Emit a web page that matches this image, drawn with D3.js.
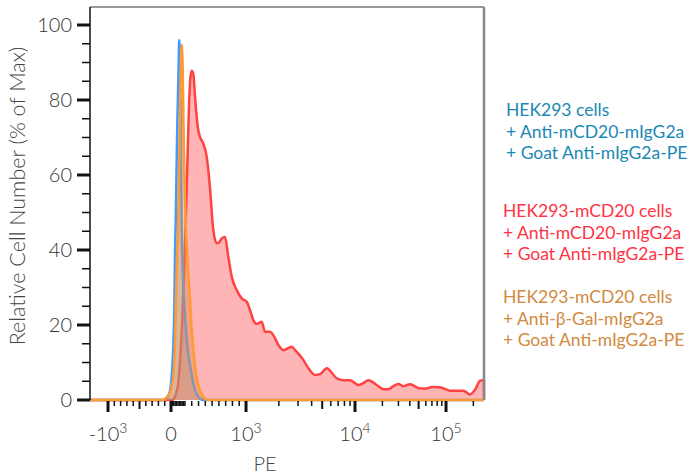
<!DOCTYPE html>
<html>
<head>
<meta charset="utf-8">
<script src="https://cdn.jsdelivr.net/npm/d3@7"></script>
<style>
  body { margin: 0; background: #fff; }
  svg text { font-family: Lato, "Open Sans", sans-serif; }
</style>
</head>
<body>
<div id="chart"></div>
<script>
// PE intensity (x) and % of max (y) for each histogram
const bluePE = [-1286, -127, -63, -32, -16, 4, 11, 16, 24, 29, 34, 39, 46, 54, 59, 64, 70, 76, 86, 100, 137, 174, 211, 248, 292, 366, 262144];
const bluePct = [0, 0, 0.5, 1.5, 2.5, 6, 10, 14, 25, 40, 48, 60, 75, 88, 96, 93, 75, 49, 33, 22.7, 14, 9.3, 5.5, 2.7, 1, 0, 0];

const orangePE = [-1286, -127, -68, -16, 0, 9, 16, 23, 29, 36, 44, 52, 59, 66, 73, 76, 83, 89, 96, 115, 144, 174, 203, 233, 262, 296, 370, 444, 262144];
const orangePct = [0, 0, 0.8, 2, 3, 4.5, 6, 10, 16, 28, 40, 49, 65, 82, 92, 94.7, 90, 75, 60, 45, 35, 27, 18, 11.5, 7, 4, 0.9, 0, 0];

const redPE = [-1286, 7, 29, 50, 64, 79, 93, 115, 137, 159, 181, 199, 223, 248, 273, 296, 321, 370, 420, 444, 469, 518, 568, 602, 642, 690, 739, 789, 863, 937,
  1015, 1088, 1167, 1254, 1393, 1494, 1661, 1780, 1979, 2199, 2626, 2815, 3355, 3729, 4295, 4775, 5501, 6795, 7810, 8991,
  10870, 12340, 14010, 17320, 20460, 23220, 26350, 29910, 33950, 40220, 51800, 61380, 69660, 85950, 110700, 154900, 183500, 208300, 236400, 255000, 262144];
const redPct = [0, 0, 1, 4, 10, 20, 33, 50, 64, 78, 86, 87.8, 87, 81, 75.5, 72, 70.2, 68.4, 64.9, 61.3, 56.5, 45.3, 41.8, 42, 43.1, 43.5, 38.2, 32.9, 29.3, 27.1,
  26.2, 24, 21.3, 20.3, 20.9, 18.2, 18.2, 17.3, 14.7, 13.3, 14.2, 13.3, 10.7, 8.5, 6.7, 6.9, 8.5, 5.8, 5.3, 5.3,
  4, 4.5, 5.3, 4, 2.9, 2.9, 3.7, 4.3, 3.7, 4.2, 3.1, 3.1, 3.5, 3.4, 2.5, 2.5, 1.5, 2.7, 5.1, 5.3, 5.3];

// axis ticks
const xMajor = [-1000, 0, 1000, 10000, 100000];
const xMajorLabels = [["-10", "3"], ["0", ""], ["10", "3"], ["10", "4"], ["10", "5"]];
const xMid = [-500, 5000, 50000];
const xMinor = [-900, -800, -700, -600, -400, -300, -200, -100,
  10, 20, 30, 40, 50, 60, 70, 80, 90,
  100, 200, 300, 400, 500, 600, 700, 800, 900,
  2000, 3000, 4000, 6000, 7000, 8000, 9000,
  20000, 30000, 40000, 60000, 70000, 80000, 90000, 200000];
const yMajor = [0, 20, 40, 60, 80, 100];
const yMinor = [5, 10, 15, 25, 30, 35, 45, 50, 55, 65, 70, 75, 85, 90, 95];

const legendBlue = ["HEK293 cells", "+ Anti-mCD20-mIgG2a", "+ Goat Anti-mIgG2a-PE"];
const legendRed = ["HEK293-mCD20 cells", "+ Anti-mCD20-mIgG2a", "+ Goat Anti-mIgG2a-PE"];
const legendOrange = ["HEK293-mCD20 cells", "+ Anti-β-Gal-mIgG2a", "+ Goat Anti-mIgG2a-PE"];

const W = 696, H = 476;
const margin = { top: 7, right: 212, bottom: 76, left: 90 };
const width = W - margin.left - margin.right,
  height = H - margin.top - margin.bottom;

const svg = d3.select("#chart").append("svg")
  .attr("width", W).attr("height", H);
const g = svg.append("g")
  .attr("transform", `translate(${margin.left}, ${margin.top})`);

// biexponential-like display: linear below 1000, log above
const tf = (v) => (v <= 1000 ? v : 1000 * (1 + Math.log10(v / 1000)));
const xBreaks = [-1286, 0, 100, 1000, 10000, 100000, 262144];
const xFrac = [0, 0.2056, 0.241, 0.396, 0.6726, 0.9036, 1];
const xs = d3.scaleLinear().domain(xBreaks.map(tf)).range(xFrac.map((f) => f * width));
const x = (v) => xs(tf(v));

const y = d3.scaleLinear().domain([0, 104.8]).range([height, 0]);

// histograms
const mk = (xa, ya) => xa.map((v, i) => ({ x: v, y: ya[i] }));
const series = [
  { data: mk(redPE, redPct), line: "#ff4242", fill: "rgba(255,60,60,0.38)" },
  { data: mk(bluePE, bluePct), line: "#3f9bff", fill: "rgba(110,150,200,0.35)" },
  { data: mk(orangePE, orangePct), line: "#ff9a33", fill: "rgba(230,140,70,0.45)" },
];

const area = d3.area().x((d) => x(d.x)).y0(y(0)).y1((d) => y(d.y)).curve(d3.curveMonotoneX);
const line = d3.line().x((d) => x(d.x)).y((d) => y(d.y)).curve(d3.curveMonotoneX);

series.forEach((s) => {
  g.append("path").attr("d", area(s.data)).attr("fill", s.fill);
  g.append("path").attr("d", line(s.data)).attr("fill", "none")
    .attr("stroke", s.line).attr("stroke-width", 2.5).attr("stroke-linejoin", "round");
  const last = s.data[s.data.length - 1];
  if (last.y > 0) {
    g.append("line")
      .attr("x1", x(last.x)).attr("x2", x(last.x))
      .attr("y1", y(last.y)).attr("y2", y(0))
      .attr("stroke", s.line).attr("stroke-width", 2.5);
  }
});

// frame
g.append("line").attr("x1", 0).attr("x2", width).attr("y1", 0).attr("y2", 0)
  .attr("stroke", "#333").attr("stroke-width", 1.2);
g.append("line").attr("x1", width).attr("x2", width).attr("y1", 0).attr("y2", height)
  .attr("stroke", "#888").attr("stroke-width", 2.5);

// y axis
const yAx = g.append("g");
yAx.append("line").attr("x1", 0).attr("x2", 0).attr("y1", 0).attr("y2", height)
  .attr("stroke", "#111").attr("stroke-width", 1.5);
yAx.selectAll(".ymin").data(yMinor).join("line")
  .attr("x1", -8).attr("x2", 0).attr("y1", (d) => y(d)).attr("y2", (d) => y(d))
  .attr("stroke", "#111").attr("stroke-width", 1.5);
yAx.selectAll(".ymaj").data(yMajor).join("line")
  .attr("x1", -13).attr("x2", 0).attr("y1", (d) => y(d)).attr("y2", (d) => y(d))
  .attr("stroke", "#111").attr("stroke-width", 3);
yAx.selectAll("text").data(yMajor).join("text")
  .attr("x", -18).attr("y", (d) => y(d)).attr("dy", "0.37em")
  .attr("text-anchor", "end").attr("font-size", "20px").attr("font-weight", 300)
  .attr("fill", "#333")
  .text((d) => d);

// x axis
const xAx = g.append("g").attr("transform", `translate(0, ${height})`);
xAx.selectAll(".xmin").data(xMinor).join("line")
  .attr("x1", x).attr("x2", x).attr("y1", 1).attr("y2", 6)
  .attr("stroke", "#111").attr("stroke-width", 1.5);
xAx.selectAll(".xmid").data(xMid).join("line")
  .attr("x1", x).attr("x2", x).attr("y1", 1).attr("y2", 9)
  .attr("stroke", "#111").attr("stroke-width", 2);
xAx.selectAll(".xmaj").data(xMajor).join("line")
  .attr("x1", x).attr("x2", x).attr("y1", 1).attr("y2", 12)
  .attr("stroke", "#111").attr("stroke-width", 3);
const xl = xAx.selectAll("text").data(xMajor).join("text")
  .attr("x", x).attr("y", 41)
  .attr("text-anchor", "middle").attr("font-size", "20px").attr("font-weight", 300)
  .attr("fill", "#333");
xl.append("tspan").text((d, i) => xMajorLabels[i][0]);
xl.append("tspan").attr("dy", "-0.6em").attr("font-size", "14px")
  .text((d, i) => xMajorLabels[i][1]);

// axis titles
svg.append("text")
  .attr("x", 265).attr("y", 471)
  .attr("text-anchor", "middle").attr("font-size", "20px").attr("font-weight", 300)
  .attr("fill", "#444")
  .text("PE");
svg.append("text")
  .attr("transform", `translate(25, ${margin.top + 189}) rotate(-90)`)
  .attr("text-anchor", "middle").attr("font-size", "21.5px").attr("font-weight", 300)
  .attr("fill", "#444")
  .text("Relative Cell Number (% of Max)");

// legend
const legend = [
  { lines: legendBlue, color: "#1a88b4", x: 506, y: 116 },
  { lines: legendRed, color: "#ff3344", x: 503, y: 217 },
  { lines: legendOrange, color: "#d18a40", x: 503, y: 303 },
];
legend.forEach((l) => {
  svg.append("g").selectAll("text").data(l.lines).join("text")
    .attr("x", l.x).attr("y", (d, i) => l.y + i * 21.6)
    .attr("font-size", "17.5px").attr("fill", l.color)
    .text((d) => d);
});
</script>
</body>
</html>
